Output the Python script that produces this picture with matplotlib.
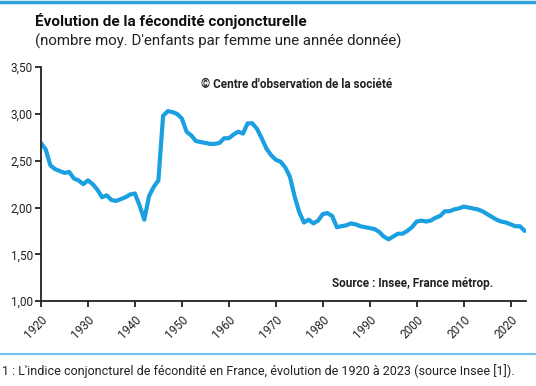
import numpy as np
import matplotlib.pyplot as plt
from matplotlib.lines import Line2D

plt.rcParams['font.family'] = ['Roboto', 'DejaVu Sans']

years = np.arange(1920, 2024)
icf = [2.69, 2.62, 2.45, 2.41, 2.39, 2.37, 2.38, 2.31, 2.29, 2.25,
       2.29, 2.25, 2.19, 2.11, 2.13, 2.08, 2.07, 2.09, 2.11, 2.14,
       2.15, 2.02, 1.87, 2.12, 2.22, 2.29, 2.98, 3.03, 3.02, 3.00,
       2.95, 2.81, 2.77, 2.71, 2.70, 2.69, 2.68, 2.68, 2.69, 2.74,
       2.74, 2.78, 2.81, 2.79, 2.90, 2.90, 2.84, 2.74, 2.63, 2.56,
       2.51, 2.49, 2.43, 2.33, 2.12, 1.95, 1.84, 1.87, 1.83, 1.86,
       1.93, 1.94, 1.91, 1.79, 1.80, 1.81, 1.83, 1.82, 1.80, 1.79,
       1.78, 1.77, 1.74, 1.69, 1.66, 1.69, 1.72, 1.72, 1.75, 1.79,
       1.85, 1.86, 1.85, 1.86, 1.89, 1.91, 1.96, 1.96, 1.98, 1.99,
       2.01, 2.00, 1.99, 1.98, 1.96, 1.93, 1.90, 1.87, 1.85, 1.84,
       1.82, 1.80, 1.80, 1.75]
yticks = [1.0, 1.5, 2.0, 2.5, 3.0, 3.5]
ytick_labels = ["1,00", "1,50", "2,00", "2,50", "3,00", "3,50"]
xticks = list(range(1920, 2030, 10))

blue = "#1a9fe0"

fig = plt.figure(figsize=(5.36, 3.86), dpi=100)
ax = fig.add_axes([0.0765, 0.220, 0.905, 0.606])
ax.plot(years, icf, color=blue, lw=3.0, solid_joinstyle='round', solid_capstyle='round')

ax.set_xlim(1920, 2023.3)
ax.set_ylim(1.0, 3.5)
ax.set_yticks(yticks)
ax.set_yticklabels(ytick_labels)
ax.set_xticks(xticks)
ax.set_xticklabels([str(x) for x in xticks], rotation=45, ha='right', rotation_mode='anchor')
for s in ['top', 'right']:
    ax.spines[s].set_visible(False)
for s in ['left', 'bottom']:
    ax.spines[s].set_linewidth(1.3)
    ax.spines[s].set_color("#222222")
ax.tick_params(axis='both', direction='out', length=4, width=1.3, color="#222222",
               labelsize=8.5, labelcolor="#222222", pad=2)
ax.tick_params(axis='x', pad=5)

ax.text(0.33, 0.925, "© Centre d'observation de la société", transform=ax.transAxes,
        fontsize=8.5, fontweight='bold', color="#222222", va='center')
ax.text(0.60, 0.075, "Source : Insee, France métrop.", transform=ax.transAxes,
        fontsize=8.5, fontweight='bold', color="#222222", va='center')

fig.text(0.065, 0.945, "Évolution de la fécondité conjoncturelle", fontsize=11,
         fontweight='bold', color="#111111", va='center')
fig.text(0.065, 0.893, "(nombre moy. D'enfants par femme une année donnée)", fontsize=10.8,
         color="#222222", va='center')

fig.add_artist(Line2D([0, 1], [0.995, 0.995], transform=fig.transFigure, color="#2ea3db", lw=2.5))
fig.add_artist(Line2D([0, 1], [0.083, 0.083], transform=fig.transFigure, color="#6fbfe6", lw=1.5))
fig.text(0.003, 0.038, "1 : L'indice conjoncturel de fécondité en France, évolution de 1920 à 2023 (source Insee [1]).",
         fontsize=9, color="#222222", va='center')

fig.savefig("out.png", dpi=100)
